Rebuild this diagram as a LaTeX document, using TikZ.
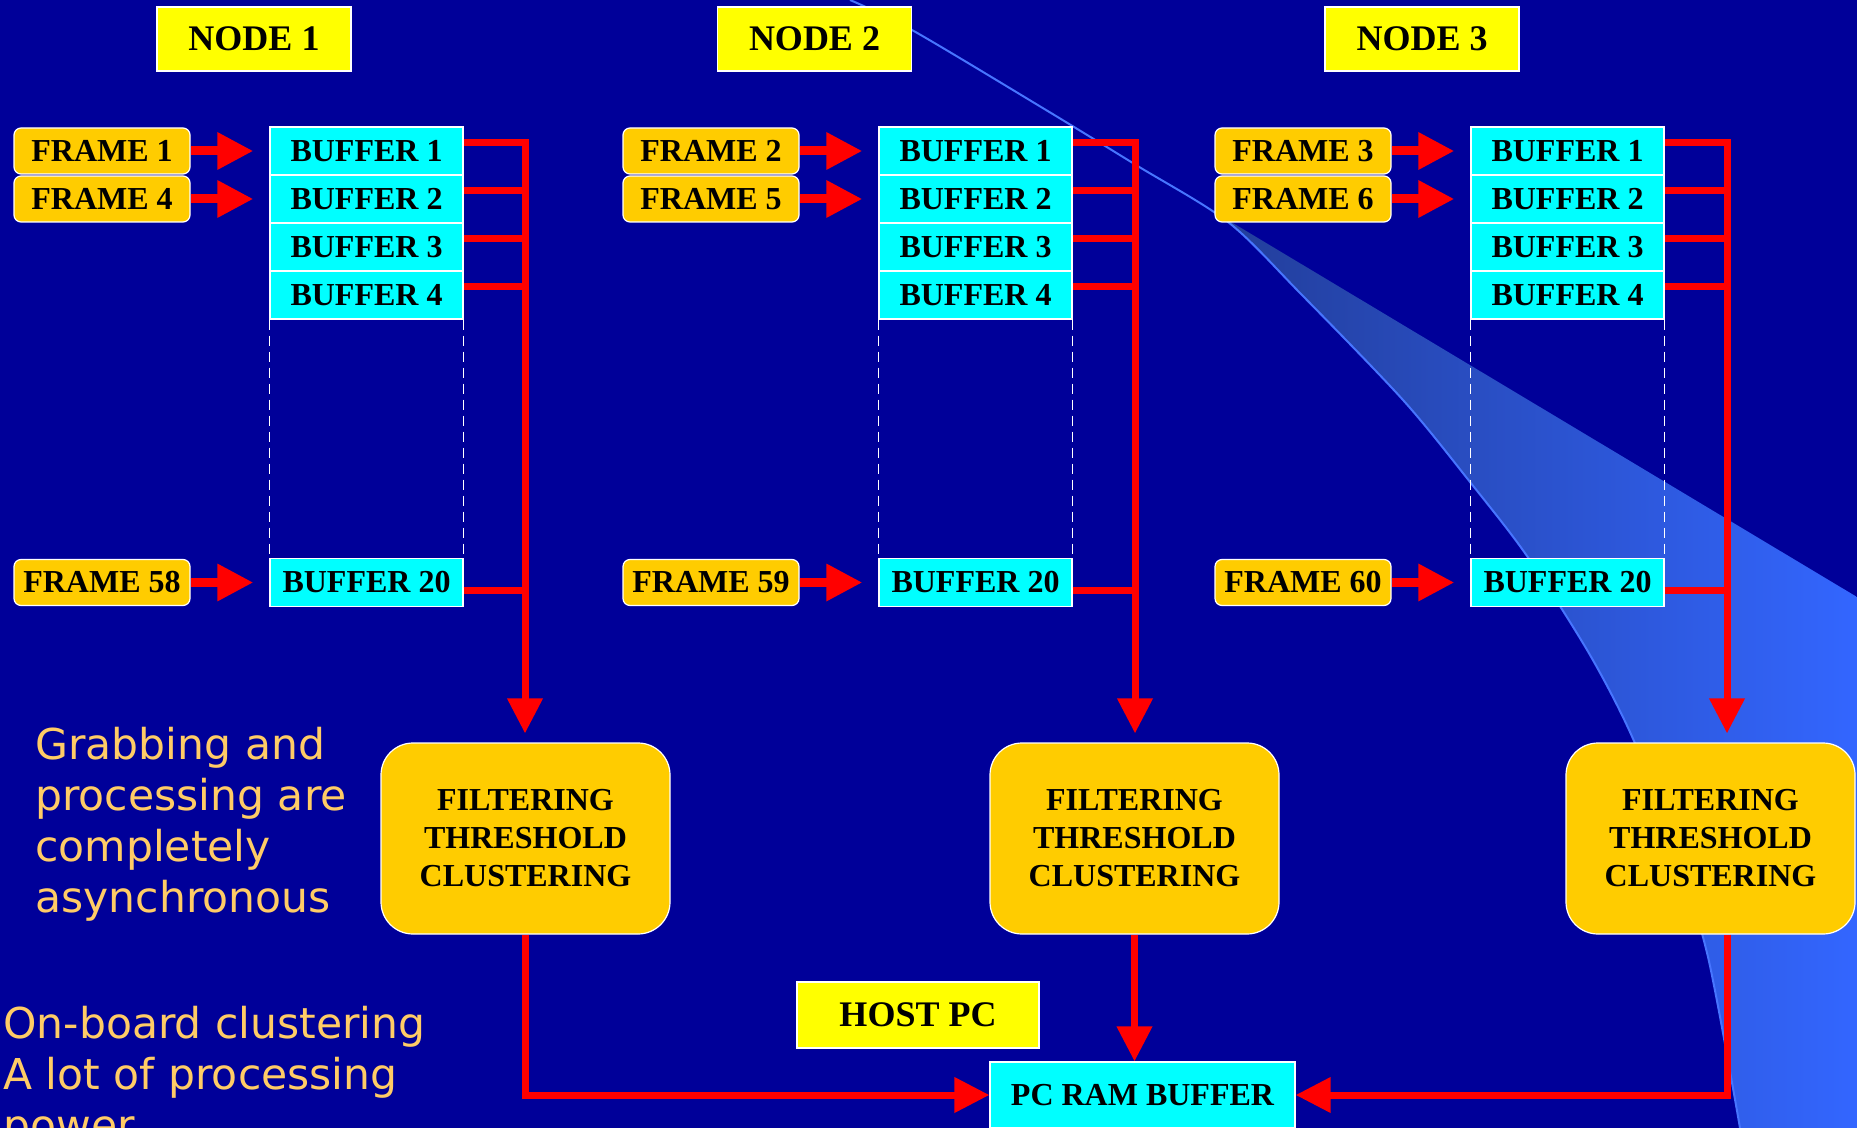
\documentclass[tikz,border=0pt]{standalone}
\usepackage{fontspec}
\setmainfont{Liberation Serif}
\newfontfamily\notefont{DejaVu Sans}
\usetikzlibrary{arrows.meta,calc}
\definecolor{slidebg}{RGB}{0,0,153}
\definecolor{labelyellow}{RGB}{255,255,0}
\definecolor{framegold}{RGB}{255,204,0}
\definecolor{bufcyan}{RGB}{0,255,255}
\definecolor{noteorange}{RGB}{255,204,102}
\definecolor{swooshblue}{RGB}{51,102,255}
\definecolor{swooshmid}{RGB}{44,84,214}
\definecolor{swooshdark}{RGB}{32,56,140}
\tikzset{
  labelbox/.style = {rectangle, fill=labelyellow, draw=white, line width=0.6pt, minimum width=97pt, minimum height=32pt, inner sep=0pt, font=\fontsize{18}{21}\selectfont\bfseries},
  frametag/.style = {rectangle, rounded corners=3.5pt, fill=framegold, draw=white, line width=0.6pt, minimum width=88pt, minimum height=23pt, inner sep=0pt, font=\fontsize{16}{19}\selectfont\bfseries},
  bufcell/.style = {rectangle, fill=bufcyan, draw=white, line width=0.6pt, minimum width=96.5pt, minimum height=24pt, inner sep=0pt, font=\fontsize{16}{19}\selectfont\bfseries},
  procbox/.style = {rectangle, rounded corners=16pt, fill=framegold, draw=white, line width=0.6pt, minimum width=144.5pt, minimum height=95.5pt, inner sep=0pt, align=center, font=\fontsize{16}{19}\selectfont\bfseries},
  hostbox/.style = {rectangle, fill=labelyellow, draw=white, line width=0.6pt, minimum width=121pt, minimum height=33pt, inner sep=0pt, font=\fontsize{18}{21}\selectfont\bfseries},
  rambox/.style = {rectangle, fill=bufcyan, draw=white, line width=0.6pt, minimum width=152.5pt, minimum height=33pt, inner sep=0pt, font=\fontsize{16}{19}\selectfont\bfseries},
  feedarrow/.style = {-{Triangle[length=18pt,width=17.5pt]}, red, line width=4.5pt, shorten >=8pt},
  tapline/.style = {red, line width=3.5pt},
  trunkline/.style = {-{Triangle[length=17.5pt,width=17pt]}, red, line width=3.5pt, shorten >=4.5pt},
  sinkline/.style = {-{Triangle[length=17.5pt,width=17pt]}, red, line width=3.5pt},
  gapline/.style = {white, line width=0.6pt, dash pattern=on 5pt off 3pt},
  notetext/.style = {text=noteorange, font=\notefont\fontsize{21.25}{25.5}\selectfont, align=left, inner sep=0pt, anchor=base west},
}

\begin{document}
\begin{tikzpicture}[x=0.5pt, y=-0.5pt]

\useasboundingbox (0,0) rectangle (1857,1128);
\fill[slidebg] (0,0) rectangle (1857,1128);

% background swoosh
\shade[left color=swooshdark, middle color=swooshmid, right color=swooshblue]
  plot[smooth] coordinates {(1136,165) (1228,222) (1300,293) (1403,400) (1470,482) (1527,556) (1590,655) (1634,741) (1675,850) (1708,957) (1740,1128)}
  -- (1857,1128) -- (1857,597) -- cycle;
\draw[swooshblue!90!white, line width=1pt]
  plot[smooth] coordinates {(850,0) (912,30) (1046,110) (1136,165) (1228,222) (1300,293) (1403,400) (1470,482) (1527,556) (1590,655) (1634,741) (1675,850) (1708,957) (1740,1128)};

% Node 1
\begin{scope}
  \node[labelbox] (n1lbl) at (254,39) {NODE 1};
  \node[frametag] (n1f1) at (102,151) {FRAME 1};
  \node[frametag] (n1f4) at (102,199) {FRAME 4};
  \node[frametag] (n1f58) at (102,582.5) {FRAME 58};
  \node[bufcell] (n1b1) at (366.5,151) {BUFFER 1};
  \node[bufcell] (n1b2) at (366.5,199) {BUFFER 2};
  \node[bufcell] (n1b3) at (366.5,247) {BUFFER 3};
  \node[bufcell] (n1b4) at (366.5,295) {BUFFER 4};
  \node[bufcell] (n1b20) at (366.5,582.5) {BUFFER 20};
  \node[procbox] (n1p) at (525.5,838.5) {FILTERING\\THRESHOLD\\CLUSTERING};
  \coordinate (bus1) at (525,143);
  \draw[feedarrow] (n1f1) -- (n1b1);
  \draw[feedarrow] (n1f4) -- (n1b2);
  \draw[feedarrow] (n1f58) -- (n1b20);
  \draw[gapline] (n1b4.south west) -- (n1b20.north west);
  \draw[gapline] (n1b4.south east) -- (n1b20.north east);
  \draw[trunkline] ([yshift=4pt]n1b1.east) -| (bus1 |- n1p.north);
  \draw[tapline] ([yshift=4pt]n1b2.east) -- ([yshift=4pt]n1b2.east -| bus1);
  \draw[tapline] ([yshift=4pt]n1b3.east) -- ([yshift=4pt]n1b3.east -| bus1);
  \draw[tapline] ([yshift=4pt]n1b4.east) -- ([yshift=4pt]n1b4.east -| bus1);
  \draw[tapline] ([yshift=-4pt]n1b20.east) -- ([yshift=-4pt]n1b20.east -| bus1);
\end{scope}

% Node 2
\begin{scope}[shift={(609,0)}]
  \node[labelbox] (n2lbl) at (205.5,39) {NODE 2};
  \node[frametag] (n2f2) at (102,151) {FRAME 2};
  \node[frametag] (n2f5) at (102,199) {FRAME 5};
  \node[frametag] (n2f59) at (102,582.5) {FRAME 59};
  \node[bufcell] (n2b1) at (366.5,151) {BUFFER 1};
  \node[bufcell] (n2b2) at (366.5,199) {BUFFER 2};
  \node[bufcell] (n2b3) at (366.5,247) {BUFFER 3};
  \node[bufcell] (n2b4) at (366.5,295) {BUFFER 4};
  \node[bufcell] (n2b20) at (366.5,582.5) {BUFFER 20};
  \node[procbox] (n2p) at (525.5,838.5) {FILTERING\\THRESHOLD\\CLUSTERING};
  \coordinate (bus2) at (526,143);
  \draw[feedarrow] (n2f2) -- (n2b1);
  \draw[feedarrow] (n2f5) -- (n2b2);
  \draw[feedarrow] (n2f59) -- (n2b20);
  \draw[gapline] (n2b4.south west) -- (n2b20.north west);
  \draw[gapline] (n2b4.south east) -- (n2b20.north east);
  \draw[trunkline] ([yshift=4pt]n2b1.east) -| (bus2 |- n2p.north);
  \draw[tapline] ([yshift=4pt]n2b2.east) -- ([yshift=4pt]n2b2.east -| bus2);
  \draw[tapline] ([yshift=4pt]n2b3.east) -- ([yshift=4pt]n2b3.east -| bus2);
  \draw[tapline] ([yshift=4pt]n2b4.east) -- ([yshift=4pt]n2b4.east -| bus2);
  \draw[tapline] ([yshift=-4pt]n2b20.east) -- ([yshift=-4pt]n2b20.east -| bus2);
\end{scope}

% Node 3
\begin{scope}[shift={(1201,0)}]
  \node[labelbox] (n3lbl) at (221,39) {NODE 3};
  \node[frametag] (n3f3) at (102,151) {FRAME 3};
  \node[frametag] (n3f6) at (102,199) {FRAME 6};
  \node[frametag] (n3f60) at (102,582.5) {FRAME 60};
  \node[bufcell] (n3b1) at (366.5,151) {BUFFER 1};
  \node[bufcell] (n3b2) at (366.5,199) {BUFFER 2};
  \node[bufcell] (n3b3) at (366.5,247) {BUFFER 3};
  \node[bufcell] (n3b4) at (366.5,295) {BUFFER 4};
  \node[bufcell] (n3b20) at (366.5,582.5) {BUFFER 20};
  \node[procbox] (n3p) at (509.5,838.5) {FILTERING\\THRESHOLD\\CLUSTERING};
  \coordinate (bus3) at (526,143);
  \draw[feedarrow] (n3f3) -- (n3b1);
  \draw[feedarrow] (n3f6) -- (n3b2);
  \draw[feedarrow] (n3f60) -- (n3b20);
  \draw[gapline] (n3b4.south west) -- (n3b20.north west);
  \draw[gapline] (n3b4.south east) -- (n3b20.north east);
  \draw[trunkline] ([yshift=4pt]n3b1.east) -| (bus3 |- n3p.north);
  \draw[tapline] ([yshift=4pt]n3b2.east) -- ([yshift=4pt]n3b2.east -| bus3);
  \draw[tapline] ([yshift=4pt]n3b3.east) -- ([yshift=4pt]n3b3.east -| bus3);
  \draw[tapline] ([yshift=4pt]n3b4.east) -- ([yshift=4pt]n3b4.east -| bus3);
  \draw[tapline] ([yshift=-4pt]n3b20.east) -- ([yshift=-4pt]n3b20.east -| bus3);
\end{scope}

% Host PC
\node[hostbox] (host) at (918,1015) {HOST PC};
\node[rambox] (ram) at (1142.5,1095) {PC RAM BUFFER};
\draw[sinkline] (n1p.south) |- (ram.west);
\draw[sinkline] (n2p.south) -- (n2p.south |- ram.north);
\draw[sinkline] (n3p.south -| bus3) |- (ram.east);

% notes (anchored at the last baseline)
\node[notetext] (async) at (35,912) {Grabbing and\\processing are\\completely\\asynchronous};
\node[notetext] (onboard) at (3,1140) {On-board clustering\\A lot of processing\\power};

\end{tikzpicture}
\end{document}
